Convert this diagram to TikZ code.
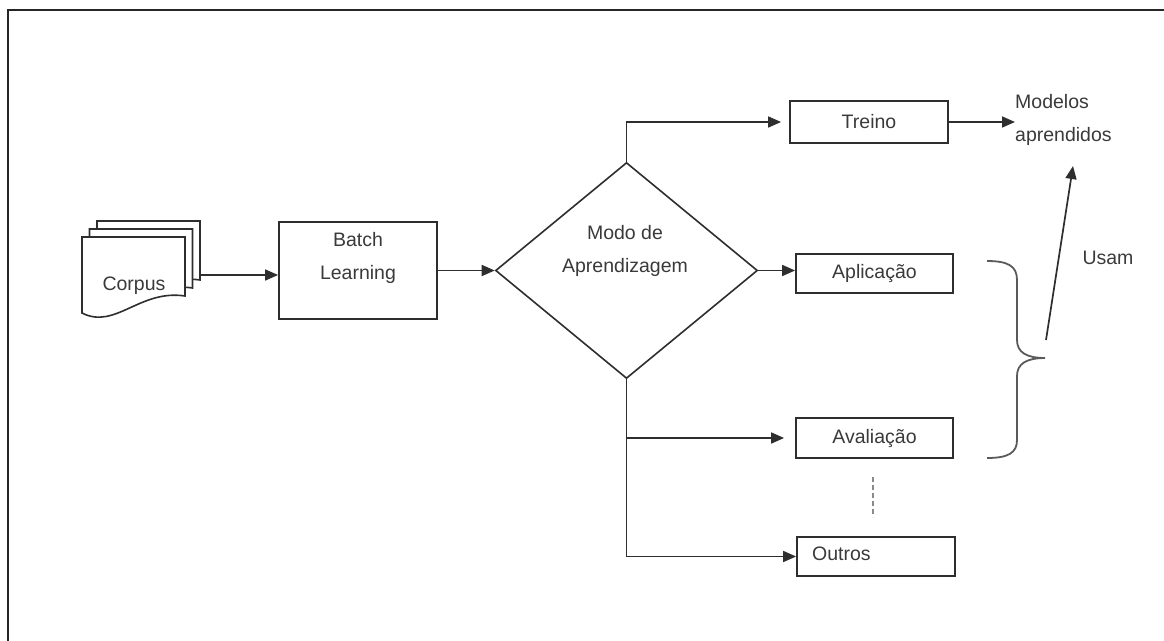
\documentclass[tikz,border=0pt]{standalone}
\usepackage{fontspec}
\setmainfont{Liberation Sans}
\usetikzlibrary{arrows.meta,shapes.geometric}
\definecolor{linecol}{HTML}{2E2E2E}
\definecolor{textcol}{HTML}{3A3A3A}
\definecolor{bracecol}{HTML}{5A5A5A}
\definecolor{dashcol}{HTML}{8A8A8A}
\begin{document}
\begin{tikzpicture}[x=1pt,y=-1pt,
  conn/.style={draw=linecol,line width=1.7pt},
  arr/.style={conn,-{Triangle[length=13pt,width=11pt]}},
  box/.style={draw=linecol,line width=1.8pt,fill=white,inner sep=0pt},
  lbl/.style={text=textcol,font=\fontsize{19.5}{33}\selectfont,align=center,inner sep=0pt},
  doc/.pic={
    \path[draw=linecol,line width=1.6pt,fill=white]
      (0,0) -- (103,0) -- (103,59)
      .. controls (58,52) and (33,93) .. (0,76) -- cycle;
  }
]
\useasboundingbox (0,0) rectangle (1164,640);
% outer frame (only top and left edges fall inside the picture)
\draw[line width=2.4pt,draw=black!85] (8,660) -- (8,10) -- (1180,10);

% corpus stack
\pic (docA) at (97,221) {doc};
\pic (docB) at (89.5,229) {doc};
\pic (docC) at (82,237) {doc};
\node[lbl] (corpus) at (134,286) {Corpus};
\coordinate (corpusR) at (200,275);

% batch learning
\node[box,minimum width=158pt,minimum height=97pt] (batch) at (358,270.5) {};
\node[lbl] (batchT) at (358,258) {Batch\\Learning};

% decision diamond
\node[diamond,draw=linecol,line width=1.6pt,fill=white,inner sep=0pt,
      minimum width=262pt,minimum height=216pt] (dia) at (626.5,270.5) {};
\node[lbl] (diaT) at (625,251) {Modo de\\Aprendizagem};

% target boxes
\node[box,minimum width=158pt,minimum height=42pt,lbl] (treino) at (869,122) {Treino};
\node[box,minimum width=157pt,minimum height=39pt,lbl] (aplic) at (874.5,273.5) {Aplicação};
\node[box,minimum width=157pt,minimum height=40pt,lbl] (aval) at (874.5,438) {Avaliação};
\node[box,minimum width=158pt,minimum height=39pt] (outros) at (876,556.5) {};
\node[lbl,anchor=west] (outrosT) at (812,554) {Outros};

% models
\node[lbl,align=left,anchor=west] (modelos) at (1015,120) {Modelos\\aprendidos};

% connectors
\draw[arr] (corpusR) -- (corpusR -| batch.west);
\draw[arr] (batch.east) -- (dia.west);
\draw[arr,shorten >=8pt] (dia.north) |- (treino.west);
\draw[arr] (dia.east) -- (dia.east -| aplic.west);
\coordinate (j1) at (dia.south |- aval.west);
\draw[arr,shorten >=11pt] (j1) -- (aval.west);
\draw[arr] (dia.south) |- (outros.west);
\draw[arr] (treino.east) -- (treino.east -| modelos.west);

% dashed continuation
\coordinate (dashTop) at (873,477);
\coordinate (dashBot) at (873,517);
\draw[draw=dashcol,line width=1.5pt,dash pattern=on 5pt off 3pt] (dashTop) -- (dashBot);

% brace
\draw[draw=bracecol,line width=1.8pt]
  (987,261) .. controls (1008,261) and (1017,266) .. (1017,280)
  -- (1017,340) .. controls (1017,352) and (1026,358) .. (1045,358)
  .. controls (1026,358) and (1017,364) .. (1017,376)
  -- (1017,440) .. controls (1017,453) and (1008,458) .. (987,458);

% "Usam" arrow
\coordinate (usamS) at (1046,340);
\coordinate (usamE) at (1073,166);
\draw[arr] (usamS) -- (usamE);
\node[lbl] (usam) at (1108,258) {Usam};
\end{tikzpicture}
\end{document}
